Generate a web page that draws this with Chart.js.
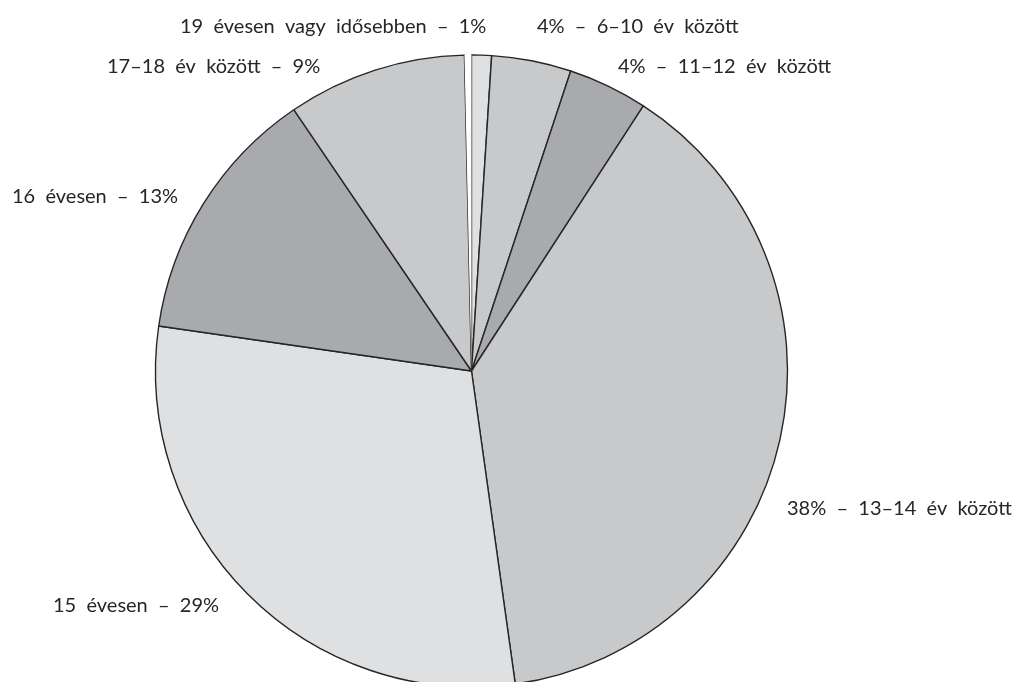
<!DOCTYPE html>
<html lang="hu">
<head>
<meta charset="utf-8">
<title>Életkor megoszlása</title>
<script src="https://cdn.jsdelivr.net/npm/chart.js@4.4.1/dist/chart.umd.min.js"></script>
<style>
  html, body { margin: 0; padding: 0; background: #ffffff; overflow: hidden; }
  #wrap { position: relative; width: 1018px; height: 742px; }
</style>
</head>
<body>
<div id="wrap"><canvas id="pie" width="1018" height="742"></canvas></div>
<script>
// Age groups, clockwise from 12 o'clock; the last entry is an unlabelled blank sliver
const categories = [
  '19 évesen vagy idősebben',
  '6–10 év között',
  '11–12 év között',
  '13–14 év között',
  '15 évesen',
  '16 évesen',
  '17–18 év között',
  ''
];
const shares = [1, 4, 4, 38, 29, 13, 9, 0.35];
const sliceColors = ['#dfe0e2', '#c8c9cb', '#a9aaad', '#c8c9cb', '#dfe0e2', '#a9aaad', '#c8c9cb', '#ffffff'];
const labelTexts = [
  '19  évesen  vagy  idősebben  –  1%',
  '4%  –  6–10  év  között',
  '4%  –  11–12  év  között',
  '38%  –  13–14  év  között',
  '15  évesen  –  29%',
  '16  évesen  –  13%',
  '17–18  év  között  –  9%'
];
// Where each caption sits (left edge, baseline)
const labelPlacement = [
  { x: 180, y: 33 },
  { x: 537, y: 33 },
  { x: 618, y: 73 },
  { x: 787, y: 515 },
  { x: 53,  y: 612 },
  { x: 12,  y: 203 },
  { x: 107, y: 73 }
];

const captions = {
  id: 'captions',
  afterDraw(chart) {
    const ctx = chart.ctx;
    ctx.save();
    ctx.fillStyle = '#262626';
    ctx.font = '20px Lato';
    ctx.textAlign = 'left';
    ctx.textBaseline = 'alphabetic';
    labelTexts.forEach((t, i) => {
      ctx.fillText(t, labelPlacement[i].x, labelPlacement[i].y);
    });
    ctx.restore();
  }
};

new Chart(document.getElementById('pie'), {
  type: 'pie',
  data: {
    labels: categories,
    datasets: [{
      data: shares,
      backgroundColor: sliceColors,
      borderColor: '#262626',
      borderWidth: [1.4, 1.4, 1.4, 1.4, 1.4, 1.4, 1.4, 0]
    }]
  },
  options: {
    responsive: false,
    animation: false,
    radius: 316,
    rotation: 0,
    layout: { padding: { left: 0, right: 75, top: 0, bottom: 0 } },
    plugins: {
      legend: { display: false },
      tooltip: { enabled: false }
    }
  },
  plugins: [captions]
});
</script>
</body>
</html>
